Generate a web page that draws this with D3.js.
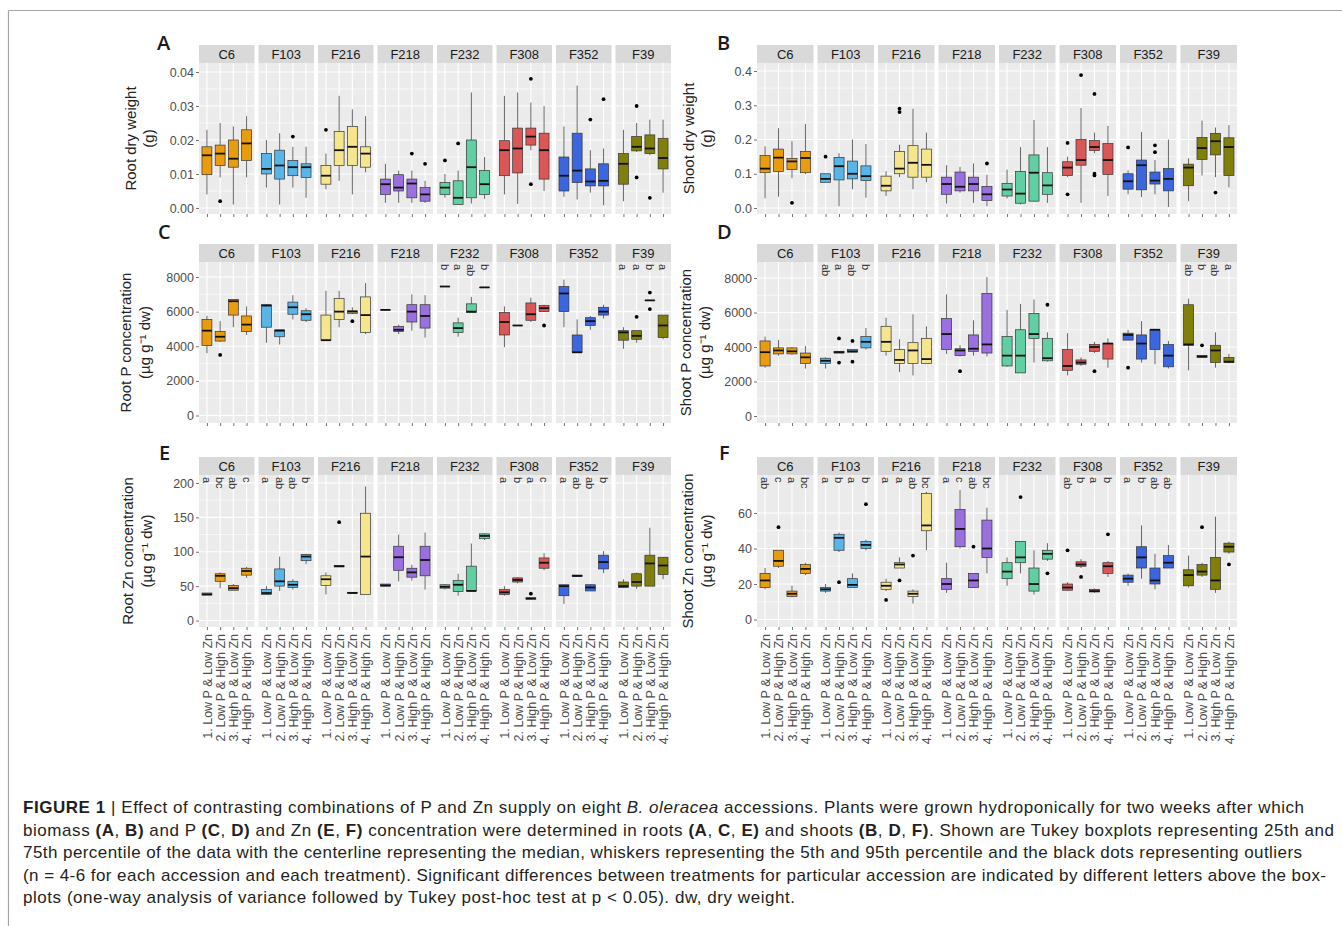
<!DOCTYPE html>
<html><head><meta charset="utf-8">
<script src="https://cdn.jsdelivr.net/npm/d3@7"></script>
<style>body{margin:0;background:#fff}svg{display:block}</style>
</head><body>
<svg id="chart" width="1342" height="926"></svg>
<script>
// ---------------- DATA ----------------
const accessions = ["C6","F103","F216","F218","F232","F308","F352","F39"];
const treatments = ["1. Low P & Low Zn","2. Low P & High Zn","3. High P & Low Zn","4. High P & High Zn"];
const accessionColors = ["#E99D0E","#57B5E8","#F5E58C","#9A70E0","#60D0A3","#DA5757","#3B66E0","#7F7F0A"];

// each row: [whiskerLow, q1, median, q3, whiskerHigh]; 4 treatments per accession, accessions in order
const rootDryWeight = [
 [0.004,0.0098,0.0155,0.018,0.023],[0.009,0.0125,0.016,0.0185,0.025],[0.001,0.012,0.0145,0.020,0.024],[0.009,0.014,0.019,0.023,0.027],
 [0.006,0.010,0.0115,0.016,0.020],[0.001,0.0085,0.0125,0.017,0.022],[0.006,0.0095,0.012,0.014,0.018],[0.003,0.009,0.012,0.013,0.018],
 [0.0055,0.007,0.0095,0.0125,0.016],[0.008,0.0125,0.017,0.0225,0.033],[0.004,0.0125,0.018,0.024,0.029],[0.0105,0.012,0.016,0.018,0.027],
 [0.0015,0.004,0.007,0.0085,0.013],[0.0015,0.005,0.006,0.0098,0.011],[0.0015,0.003,0.0072,0.0085,0.011],[0.0015,0.002,0.004,0.006,0.008],
 [0.003,0.004,0.006,0.0075,0.010],[0.001,0.001,0.003,0.008,0.011],[0.0013,0.003,0.012,0.020,0.034],[0.0027,0.004,0.007,0.011,0.015],
 [0.004,0.0095,0.017,0.0198,0.033],[0.0012,0.0103,0.0175,0.0235,0.034],[0.017,0.0185,0.021,0.0235,0.031],[0.005,0.0085,0.017,0.022,0.030],
 [0.0033,0.005,0.0095,0.015,0.024],[0.0025,0.0075,0.011,0.022,0.036],[0.0045,0.0065,0.0078,0.0115,0.017],[0.0008,0.0065,0.008,0.013,0.0175],
 [0.002,0.007,0.013,0.016,0.023],[0.0165,0.0168,0.018,0.021,0.025],[0.0155,0.016,0.0175,0.0215,0.026],[0.0045,0.0115,0.0147,0.0205,0.026]
];
// [accessionIndex, treatmentIndex, value]
const rootDryWeightOutliers = [[0,1,0.002],[1,2,0.021],[2,0,0.023],[3,2,0.016],[3,3,0.013],[4,0,0.014],[4,1,0.019],
 [5,2,0.038],[5,2,0.007],[6,2,0.026],[6,3,0.032],[7,1,0.030],[7,1,0.009],[7,2,0.003]];
const rootDryWeightTicks = [0,0.01,0.02,0.03,0.04];

const shootDryWeight = [
 [0.028,0.103,0.115,0.153,0.18],[0.033,0.107,0.147,0.172,0.233],[0.087,0.112,0.136,0.145,0.195],[0.099,0.103,0.146,0.165,0.245],
 [0.075,0.075,0.085,0.1,0.1],[0.005,0.082,0.122,0.148,0.16],[0.055,0.085,0.1,0.137,0.2],[0.03,0.08,0.093,0.123,0.187],
 [0.035,0.05,0.065,0.093,0.107],[0.09,0.1,0.115,0.165,0.185],[0.055,0.09,0.132,0.182,0.29],[0.075,0.09,0.126,0.172,0.22],
 [0.013,0.04,0.07,0.09,0.125],[0.045,0.05,0.062,0.105,0.12],[0.015,0.05,0.07,0.09,0.13],[0.005,0.022,0.04,0.063,0.097],
 [0.028,0.035,0.054,0.072,0.112],[0.01,0.014,0.042,0.107,0.178],[0.018,0.02,0.103,0.155,0.257],[0.015,0.04,0.066,0.103,0.178],
 [0.09,0.095,0.118,0.135,0.15],[0.015,0.125,0.14,0.2,0.292],[0.16,0.168,0.178,0.197,0.22],[0.035,0.098,0.14,0.188,0.24],
 [0.04,0.055,0.078,0.1,0.11],[0.032,0.053,0.125,0.14,0.222],[0.04,0.07,0.08,0.105,0.14],[0.003,0.05,0.085,0.115,0.2],
 [0.02,0.065,0.118,0.128,0.145],[0.095,0.142,0.175,0.206,0.255],[0.09,0.155,0.195,0.218,0.235],[0.06,0.095,0.178,0.205,0.242]
];
const shootDryWeightOutliers = [[0,2,0.015],[1,0,0.15],[2,1,0.29],[2,1,0.28],[3,3,0.13],[5,0,0.19],[5,0,0.04],[5,1,0.388],
 [5,2,0.333],[5,2,0.1],[5,2,0.095],[6,0,0.177],[6,2,0.183],[6,2,0.163],[7,2,0.045]];
const shootDryWeightTicks = [0,0.1,0.2,0.3,0.4];

const rootP = [
 [3600,4050,4900,5550,5750],[4250,4300,4550,4850,5450],[5100,5800,6600,6700,6700],[4650,4850,5250,5750,6300],
 [4200,5100,6350,6400,6450],[4100,4550,4900,4950,4950],[5550,5850,6250,6550,6950],[5400,5500,5850,6050,6200],
 [4350,4350,4350,5800,7200],[5100,5550,6000,6750,7200],[5850,5900,6000,6050,6250],[4700,4800,5800,6850,7650],
 [6100,6100,6100,6100,6100],[4700,4850,4950,5150,5250],[4900,5400,6000,6400,7000],[4500,5050,5750,6400,6950],
 [7450,7450,7450,7450,7450],[4550,4800,5050,5350,5650],[5950,5950,6000,6450,6850],[7400,7400,7400,7400,7400],
 [3950,4650,5400,5950,6300],[5200,5200,5200,5200,5200],[5400,5500,5850,6500,6800],[6000,6000,6200,6350,6400],
 [5100,6000,7050,7450,7850],[3650,3650,3650,4650,5550],[4950,5200,5450,5650,5750],[5600,5800,6000,6250,6400],
 [3850,4350,4800,4900,5100],[4200,4400,4600,4900,4900],[6650,6650,6650,6650,6650],[4400,4500,5200,5800,5800]
];
const rootPOutliers = [[0,1,3500],[2,2,5450],[5,3,5200],[7,1,5700],[7,2,7100],[7,2,6150]];
const rootPLetters = [[4,["b","a","ab","b"]],[7,["a","a","b","a"]]];
const pTicks = [0,2000,4000,6000,8000];

const shootP = [
 [2800,2900,3700,4350,4600],[3500,3600,3800,3950,4400],[3550,3600,3750,3950,4000],[2750,3050,3400,3650,4050],
 [2750,3050,3200,3350,3400],[3650,3650,3700,3750,3750],[3700,3700,3750,3850,3850],[3850,3950,4300,4600,5100],
 [3500,3750,4300,5200,5700],[2550,3050,3250,3850,4450],[2350,3050,3800,4250,5900],[3050,3050,3300,4500,5200],
 [3600,3850,4750,5650,7050],[3450,3500,3800,3900,4100],[3500,3750,3900,4700,5550],[3450,3650,4150,7100,8050],
 [2850,2900,3500,4600,6150],[2500,2500,3500,5000,6500],[3100,4500,4750,5950,6750],[3150,3200,3350,4500,4850],
 [2350,2650,2900,3850,4800],[2900,3000,3100,3250,3400],[3650,3750,4000,4150,4300],[2800,3300,4200,4200,4500],
 [4400,4400,4700,4800,5000],[3100,3300,4200,4700,5500],[3000,3850,5000,5000,5050],[2750,2850,3500,4150,4350],
 [2650,4100,4150,6450,6800],[3400,3400,3450,3500,3500],[2800,3100,3800,4100,4850],[3050,3100,3150,3400,3600]
];
const shootPOutliers = [[1,1,4500],[1,1,3100],[1,2,4350],[1,2,3150],[3,1,2600],[4,3,6450],[5,2,2600],[6,0,2800],[7,1,4100]];
const shootPLetters = [[1,["ab","a","ab","b"]],[7,["ab","b","ab","a"]]];

const rootZn = [
 [37,37,38,40,40],[47,57,65,68,70],[44,44,47,51,53],[62,66,72,76,78],
 [37,38,40,45,50],[43,50,57,75,93],[45,48,52,57,60],[82,87,93,96,97],
 [38,51,60,65,70],[78,78,79,80,80],[40,40,40,41,41],[38,38,93,156,195],
 [50,50,51,53,53],[57,73,92,108,125],[58,63,70,76,81],[45,65,88,108,128],
 [45,47,49,52,53],[36,42,52,58,68],[43,43,43,79,112],[117,119,123,126,127],
 [36,38,41,45,50],[54,56,59,62,63],[31,31,32,33,33],[73,76,84,91,98],
 [24,36,50,52,52],[64,64,65,66,66],[43,43,48,52,53],[69,75,85,95,101],
 [47,48,50,56,60],[46,50,56,68,70],[50,50,83,95,135],[60,67,80,92,92]
];
const rootZnOutliers = [[2,1,143],[5,2,39]];
const rootZnLetters = [[0,["a","bc","ab","c"]],[1,["a","ab","ab","b"]],[5,["a","b","a","c"]],[6,["a","ab","ab","b"]]];
const rootZnTicks = [0,50,100,150,200];

const shootZn = [
 [17,18,22,26,29],[29,30,33,39,39],[12.5,13,14.5,16,19],[25,26,28.5,31,32],
 [15,16,17,18,20],[38,39,46,48,49],[18,18,19.5,23,26],[39,40,42,44,45],
 [16,17,19,21,23],[29,29,31,32,35],[9,13,14.5,16,17],[39,50,53,71,72],
 [15,17,20,23,32],[40,41,51,62,73],[18,18,22,26,26],[26,35,40,56,63],
 [19,23,27,32,35],[26,32,35,44,44],[14,16,20,29,39],[33,34,37,39,43],
 [16,16.5,18,20,21],[29,30,31,32.5,34],[15,15.5,16,17,17.5],[24,26,30,32,33],
 [19,21,23,25,26],[23,29,35,41,53],[17,20,22,29,37],[29,29,32,36,42],
 [18,19,25,28,36],[24,25,27,31,32],[15,17,22,35,58],[37,38,41,43,44]
];
const shootZnOutliers = [[0,1,52],[1,1,21],[1,3,65],[2,0,11],[2,1,22],[2,2,36],[3,2,41],[4,1,69],[4,3,26],
 [5,0,39],[5,1,24],[5,3,48],[7,1,52],[7,3,31]];
const shootZnLetters = [[0,["ab","c","a","bc"]],[1,["a","b","a","b"]],[2,["a","a","ab","bc"]],[3,["a","c","ab","bc"]],[5,["ab","b","a","b"]],[6,["a","b","ab","ab"]]];
const shootZnTicks = [0,20,40,60];

const captionLines = [
 [["FIGURE 1","b"],[" | Effect of contrasting combinations of P and Zn supply on eight ",""],["B. oleracea","i"],[" accessions. Plants were grown hydroponically for two weeks after which",""]],
 [["biomass ",""],["(A","b"],[", ",""],["B)","b"],[" and P ",""],["(C","b"],[", ",""],["D)","b"],[" and Zn ",""],["(E","b"],[", ",""],["F)","b"],[" concentration were determined in roots ",""],["(A","b"],[", ",""],["C","b"],[", ",""],["E)","b"],[" and shoots ",""],["(B","b"],[", ",""],["D","b"],[", ",""],["F)","b"],[". Shown are Tukey boxplots representing 25th and",""]],
 [["75th percentile of the data with the centerline representing the median, whiskers representing the 5th and 95th percentile and the black dots representing outliers",""]],
 [["(n = 4-6 for each accession and each treatment). Significant differences between treatments for particular accession are indicated by different letters above the box-",""]],
 [["plots (one-way analysis of variance followed by Tukey post-hoc test at p < 0.05). dw, dry weight.",""]]
];

// ---------------- LAYOUT ----------------
const cols = [{x0:199,x1:671},{x0:757,x1:1237}];
const rows = [{stripTop:45,stripBottom:63,bottom:214,letterY:50},
              {stripTop:244,stripBottom:262,bottom:423,letterY:239},
              {stripTop:457,stripBottom:475,bottom:627,letterY:460}];
const panels = [
 {label:"A",row:0,col:0,stats:rootDryWeight,out:rootDryWeightOutliers,letters:[],ticks:rootDryWeightTicks,fmt:".2f",title:["Root dry weight","(g)"],pix:[208,72],tx:[136,154],lx:157},
 {label:"B",row:0,col:1,stats:shootDryWeight,out:shootDryWeightOutliers,letters:[],ticks:shootDryWeightTicks,fmt:".1f",title:["Shoot dry weight","(g)"],pix:[208,71],tx:[694,712],lx:717},
 {label:"C",row:1,col:0,stats:rootP,out:rootPOutliers,letters:rootPLetters,ticks:pTicks,fmt:"d",title:["Root P concentration","(µg g⁻¹ dw)"],pix:[415.5,277],tx:[131,150],lx:158},
 {label:"D",row:1,col:1,stats:shootP,out:shootPOutliers,letters:shootPLetters,ticks:pTicks,fmt:"d",title:["Shoot P concentration","(µg g⁻¹ dw)"],pix:[416,278],tx:[691,710],lx:717},
 {label:"E",row:2,col:0,stats:rootZn,out:rootZnOutliers,letters:rootZnLetters,ticks:rootZnTicks,fmt:"d",title:["Root Zn concentration","(µg g⁻¹ dw)"],pix:[620.5,483],tx:[133,152],lx:159},
 {label:"F",row:2,col:1,stats:shootZn,out:shootZnOutliers,letters:shootZnLetters,ticks:shootZnTicks,fmt:"d",title:["Shoot Zn concentration","(µg g⁻¹ dw)"],pix:[619.5,513],tx:[693,712],lx:719}
];

const FONT = "'Liberation Sans', Arial, sans-serif";
const svg = d3.select("#chart");

// frame
svg.append("line").attr("x1",8.5).attr("x2",1342).attr("y1",10.5).attr("y2",10.5).attr("stroke","#a6a6a6").attr("stroke-width",1.2);
svg.append("line").attr("x1",8.5).attr("x2",8.5).attr("y1",10.5).attr("y2",926).attr("stroke","#a6a6a6").attr("stroke-width",1.2);

const GAP = 4;
panels.forEach(p => {
  const c = cols[p.col], r = rows[p.row];
  const g = svg.append("g");
  const y = d3.scaleLinear().domain([0, d3.max(p.ticks)]).range(p.pix);
  const band = d3.scaleBand().domain(accessions).range([c.x0, c.x1])
     .paddingInner(GAP*accessions.length/((c.x1-c.x0)+GAP)).paddingOuter(0);
  const fw = band.bandwidth();
  const fmt = d3.format(p.fmt);

  // panel label
  svg.append("text").attr("x",p.lx).attr("y",r.letterY).text(p.label)
    .attr("font-family","'Open Sans', sans-serif").attr("font-weight",600).attr("font-size",20).attr("fill","#1a1a1a");

  // y title
  const cy = (r.stripBottom + r.bottom)/2;
  p.title.forEach((t,i) => {
    svg.append("text").attr("transform",`translate(${p.tx[i]},${cy}) rotate(-90)`)
      .attr("text-anchor","middle").attr("font-family",FONT).attr("font-size",15).attr("fill","#222").text(t);
  });

  const minors = d3.pairs(p.ticks).map(([a,b]) => (a+b)/2);

  accessions.forEach((acc, ai) => {
    const fx = band(acc);
    const x = d3.scalePoint().domain(treatments).range([fx, fx+fw]).padding(0.6);
    const bw = x.step()*0.75;
    const fg = g.append("g");
    // background and grid
    fg.append("rect").attr("x",fx).attr("y",r.stripBottom).attr("width",fw).attr("height",r.bottom-r.stripBottom).attr("fill","#EBEBEB");
    fg.selectAll(".mn").data(minors).join("line").attr("x1",fx).attr("x2",fx+fw)
      .attr("y1",d=>y(d)).attr("y2",d=>y(d)).attr("stroke","#fff").attr("stroke-width",0.6);
    fg.selectAll(".mj").data(p.ticks).join("line").attr("x1",fx).attr("x2",fx+fw)
      .attr("y1",d=>y(d)).attr("y2",d=>y(d)).attr("stroke","#fff").attr("stroke-width",1.1);
    fg.selectAll(".vx").data(treatments).join("line").attr("x1",d=>x(d)).attr("x2",d=>x(d))
      .attr("y1",r.stripBottom).attr("y2",r.bottom).attr("stroke","#fff").attr("stroke-width",1.1);
    // strip
    fg.append("rect").attr("x",fx).attr("y",r.stripTop).attr("width",fw).attr("height",r.stripBottom-r.stripTop).attr("fill","#D9D9D9");
    fg.append("text").attr("x",fx+fw/2).attr("y",(r.stripTop+r.stripBottom)/2).attr("dy","0.36em")
      .attr("text-anchor","middle").attr("font-family",FONT).attr("font-size",13).attr("fill","#1A1A1A").text(acc);

    // boxes
    treatments.forEach((t, ti) => {
      const s = p.stats[ai*4+ti];
      const cx = x(t);
      fg.append("line").attr("x1",cx).attr("x2",cx).attr("y1",y(s[0])).attr("y2",y(s[1])).attr("stroke","#555").attr("stroke-width",0.9);
      fg.append("line").attr("x1",cx).attr("x2",cx).attr("y1",y(s[3])).attr("y2",y(s[4])).attr("stroke","#555").attr("stroke-width",0.9);
      fg.append("rect").attr("x",cx-bw/2).attr("y",y(s[3])).attr("width",bw).attr("height",Math.max(0.01,y(s[1])-y(s[3])))
        .attr("fill",accessionColors[ai]).attr("stroke","#333").attr("stroke-width",0.7);
      fg.append("line").attr("x1",cx-bw/2).attr("x2",cx+bw/2).attr("y1",y(s[2])).attr("y2",y(s[2])).attr("stroke","#111").attr("stroke-width",1.8);
    });
    fg.selectAll(".ol").data(p.out.filter(o=>o[0]===ai)).join("circle")
      .attr("cx",o=>x(treatments[o[1]])).attr("cy",o=>y(o[2])).attr("r",1.9).attr("fill","#000");

    // significance letters
    const L = p.letters.find(l=>l[0]===ai);
    if (L) {
      L[1].forEach((lt, ti) => {
        fg.append("text").attr("transform",`translate(${x(treatments[ti])},${r.stripBottom+2}) rotate(90)`)
          .attr("dominant-baseline","central").attr("text-anchor","start")
          .attr("font-family",FONT).attr("font-size",11).attr("fill","#333").text(lt);
      });
    }

    // x axis
    const xa = fg.append("g").attr("transform",`translate(0,${r.bottom})`)
      .call(d3.axisBottom(x).tickSize(3).tickSizeOuter(0).tickFormat(p.row===2 ? (d=>d) : (()=>"")));
    xa.select(".domain").remove();
    xa.selectAll(".tick line").attr("stroke","#333").attr("stroke-width",0.7);
    xa.selectAll(".tick text").attr("transform","rotate(-90)").attr("x",-7).attr("y",0).attr("dy","0.35em")
      .attr("text-anchor","end").attr("font-family",FONT).attr("font-size",12.5).attr("fill","#4D4D4D");

    // y axis (first facet only)
    if (ai === 0) {
      const ya = fg.append("g").attr("transform",`translate(${fx},0)`)
        .call(d3.axisLeft(y).tickValues(p.ticks).tickFormat(fmt).tickSize(3).tickPadding(2));
      ya.select(".domain").remove();
      ya.selectAll(".tick line").attr("stroke","#333").attr("stroke-width",0.7);
      ya.selectAll(".tick text").attr("font-family",FONT).attr("font-size",12.5).attr("fill","#4D4D4D");
    }
  });
});

// caption
const capEnds = [1304,1334,1302,1326,795];
const capX = 23, capY0 = 813, capDy = 22.5;
captionLines.forEach((segs, i) => {
  const t = svg.append("text").attr("x",capX).attr("y",capY0+i*capDy)
    .attr("font-family",FONT).attr("font-size",17).attr("fill","#231F20")
    .attr("textLength",capEnds[i]-capX).attr("lengthAdjust","spacing");
  segs.forEach(([s,st]) => {
    const ts = t.append("tspan").text(s);
    if (st==="b") ts.attr("font-weight","bold");
    if (st==="i") ts.attr("font-style","italic");
  });
});
</script>
</body></html>
